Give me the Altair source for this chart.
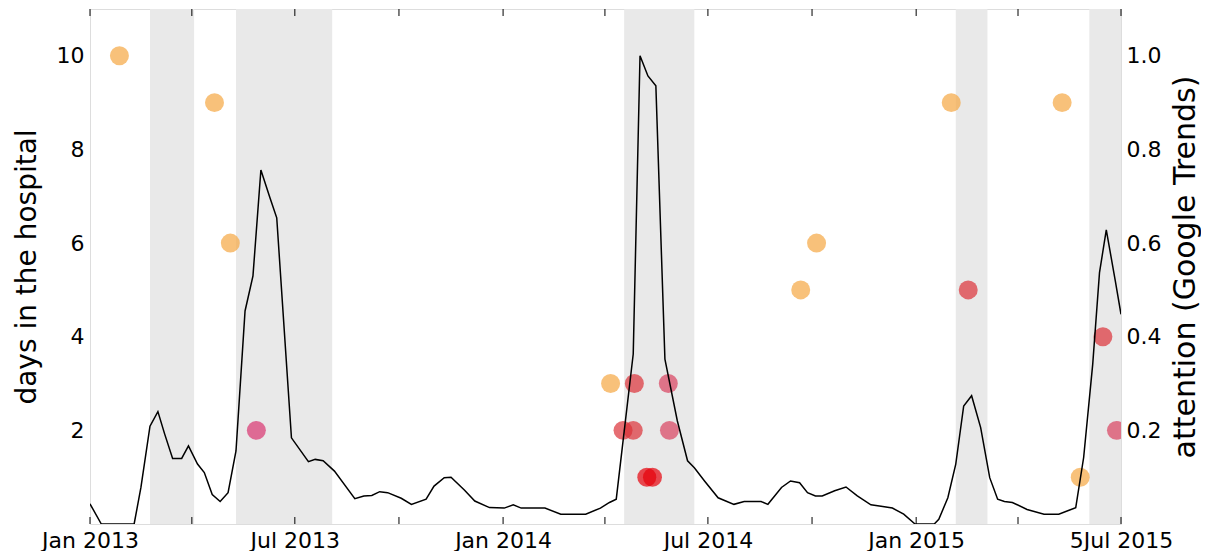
import json
import altair as alt
import pandas as pd

# ---- data ----
line_dates = [
    "2013-01-01", "2013-01-11", "2013-02-09", "2013-02-15", "2013-02-23", "2013-03-02",
    "2013-03-08", "2013-03-15", "2013-03-23", "2013-03-29", "2013-04-06", "2013-04-12",
    "2013-04-19", "2013-04-26", "2013-05-03", "2013-05-10", "2013-05-18", "2013-05-25",
    "2013-06-01", "2013-06-09", "2013-06-15", "2013-06-28", "2013-07-13", "2013-07-19",
    "2013-07-26", "2013-08-05", "2013-08-23", "2013-08-31", "2013-09-07", "2013-09-14",
    "2013-09-21", "2013-10-03", "2013-10-12", "2013-10-25", "2013-11-01", "2013-11-10",
    "2013-11-16", "2013-11-28", "2013-12-07", "2013-12-20", "2014-01-02", "2014-01-10",
    "2014-01-17", "2014-02-07", "2014-02-21", "2014-03-15", "2014-03-28", "2014-04-05",
    "2014-04-11", "2014-04-26", "2014-05-02", "2014-05-09", "2014-05-16", "2014-05-24",
    "2014-06-04", "2014-06-13", "2014-06-19", "2014-06-28", "2014-07-10", "2014-07-24",
    "2014-08-02", "2014-08-17", "2014-08-23", "2014-09-04", "2014-09-12", "2014-09-20",
    "2014-09-27", "2014-10-04", "2014-10-10", "2014-10-21", "2014-10-31", "2014-11-10",
    "2014-11-22", "2014-12-01", "2014-12-11", "2014-12-21", "2014-12-31", "2015-01-17",
    "2015-01-21", "2015-01-29", "2015-02-05", "2015-02-12", "2015-02-19", "2015-02-27",
    "2015-03-07", "2015-03-14", "2015-03-20", "2015-03-27", "2015-04-09", "2015-04-24",
    "2015-05-07", "2015-05-22", "2015-05-29", "2015-06-06", "2015-06-12", "2015-06-18",
    "2015-06-26", "2015-07-01",
]
line_values = [
    0.043, 0.0, 0.0, 0.078, 0.209, 0.240,
    0.192, 0.140, 0.140, 0.167, 0.128, 0.110,
    0.063, 0.048, 0.067, 0.156, 0.455, 0.530,
    0.756, 0.697, 0.654, 0.184, 0.133, 0.138,
    0.135, 0.113, 0.054, 0.060, 0.061, 0.069,
    0.067, 0.055, 0.042, 0.053, 0.081, 0.099,
    0.100, 0.072, 0.049, 0.035, 0.034, 0.041,
    0.034, 0.034, 0.021, 0.021, 0.034, 0.046,
    0.053, 0.363, 1.000, 0.957, 0.936, 0.352,
    0.220, 0.135, 0.120, 0.092, 0.056, 0.042,
    0.048, 0.048, 0.042, 0.078, 0.092, 0.088,
    0.067, 0.060, 0.060, 0.071, 0.079, 0.060,
    0.041, 0.038, 0.034, 0.021, 0.0, 0.0,
    0.010, 0.056, 0.128, 0.252, 0.274, 0.206,
    0.099, 0.053, 0.048, 0.046, 0.031, 0.021,
    0.021, 0.035, 0.142, 0.341, 0.537, 0.628,
    0.519, 0.448,
]

pt_dates = [
    "2013-01-27", "2013-04-21", "2013-05-05", "2013-05-28",
    "2014-04-06", "2014-04-27", "2014-05-27", "2014-04-17", "2014-04-26", "2014-05-28",
    "2014-05-08", "2014-05-13", "2014-09-21", "2014-10-05",
    "2015-02-01", "2015-02-16", "2015-05-10", "2015-05-26", "2015-06-15", "2015-06-27",
]
pt_days = [10, 9, 6, 2, 3, 3, 3, 2, 2, 2, 1, 1, 5, 6, 9, 5, 9, 1, 4, 2]
pt_kind = [
    "orange", "orange", "orange", "pink",
    "orange", "red", "rose", "red", "red", "rose",
    "crimson", "crimson", "orange", "orange",
    "orange", "red", "orange", "orange", "red", "rose",
]

band_start = ["2013-02-23", "2013-05-10", "2014-04-18", "2015-02-05", "2015-06-03"]
band_end = ["2013-04-03", "2013-08-03", "2014-06-19", "2015-03-05", "2015-07-01"]

tick_dates = [
    "2013-01-01", "2013-04-01", "2013-07-01", "2013-10-01",
    "2014-01-01", "2014-04-01", "2014-07-01", "2014-10-01",
    "2015-01-01", "2015-04-01", "2015-07-01",
]
tick_labels = ["Jan 2013", "", "Jul 2013", "", "Jan 2014", "", "Jul 2014", "",
               "Jan 2015", "", "5Jul 2015"]

kind_domain = ["orange", "red", "rose", "pink", "crimson"]
kind_range = ["#f5a742", "#dc3038", "#d9405e", "#d8336f", "#e6000a"]

# ---- frames ----
line_df = pd.DataFrame({"date": line_dates, "attention": line_values})
pt_df = pd.DataFrame({"date": pt_dates, "days": pt_days, "kind": pt_kind})
band_df = pd.DataFrame({"start": band_start, "end": band_end})
tick_df = pd.DataFrame({"date": tick_dates})


def dt(s):
    y, m, d = s.split("-")
    return alt.DateTime(year=int(y), month=int(m), date=int(d), utc=True)


x_scale = alt.Scale(type="utc", domain=[dt("2013-01-01"), dt("2015-07-01")])
label_expr = (json.dumps(tick_labels)
              + "[(utcyear(datum.value)-2013)*4 + floor(utcmonth(datum.value)/3)]")

FONT = "DejaVu Sans"

x_axis = alt.Axis(
    title=None, values=[dt(s) for s in tick_dates], labelExpr=label_expr,
    ticks=False, domain=False, grid=False, labelFontSize=22, labelFont=FONT,
    labelColor="black", labelPadding=6, labelFlush=False, labelOverlap=False,
)

bands = alt.Chart(band_df).mark_rect(color="#e9e9e9").encode(
    x=alt.X("start:T", scale=x_scale, axis=x_axis),
    x2="end:T",
)

xticks_bottom = alt.Chart(tick_df).mark_rule(color="black", strokeWidth=1).encode(
    x=alt.X("date:T", scale=x_scale),
    y=alt.value(515), y2=alt.value(508),
)
xticks_top = alt.Chart(tick_df).mark_rule(color="black", strokeWidth=1).encode(
    x=alt.X("date:T", scale=x_scale),
    y=alt.value(0), y2=alt.value(7),
)

points = alt.Chart(pt_df).mark_circle(size=360, opacity=0.7, clip=True).encode(
    x=alt.X("date:T", scale=x_scale),
    y=alt.Y("days:Q", scale=alt.Scale(domain=[0, 11], nice=False),
            axis=alt.Axis(orient="left", title="days in the hospital", values=[2, 4, 6, 8, 10],
                          ticks=False, domain=False, grid=False, labelFontSize=22,
                          labelFont=FONT, labelColor="black", labelPadding=6,
                          titleFontSize=28, titleFont=FONT, titleFontWeight="normal",
                          titleColor="black", titlePadding=15)),
    color=alt.Color("kind:N", scale=alt.Scale(domain=kind_domain, range=kind_range), legend=None),
)

line = alt.Chart(line_df).mark_line(color="black", strokeWidth=1.5, clip=True).encode(
    x=alt.X("date:T", scale=x_scale),
    y=alt.Y("attention:Q", scale=alt.Scale(domain=[0, 1.1], nice=False),
            axis=alt.Axis(orient="right", title="attention (Google Trends)",
                          values=[0.2, 0.4, 0.6, 0.8, 1.0], format=".1f",
                          ticks=False, domain=False, grid=False, labelFontSize=22,
                          labelFont=FONT, labelColor="black", labelPadding=5,
                          titleFontSize=30, titleFont=FONT, titleFontWeight="normal",
                          titleColor="black", titlePadding=10, titleAngle=270,
                          titleBaseline="top")),
)

chart = alt.layer(bands, xticks_bottom, xticks_top, points, line).resolve_scale(
    y="independent"
).properties(
    width=1031, height=515,
    padding={"left": 5, "top": 0, "right": 0, "bottom": 0},
).configure_view(
    stroke="black", strokeWidth=1.5
).configure(background="white")

chart.save("out.html", embed_options={"renderer": "svg", "actions": False})
